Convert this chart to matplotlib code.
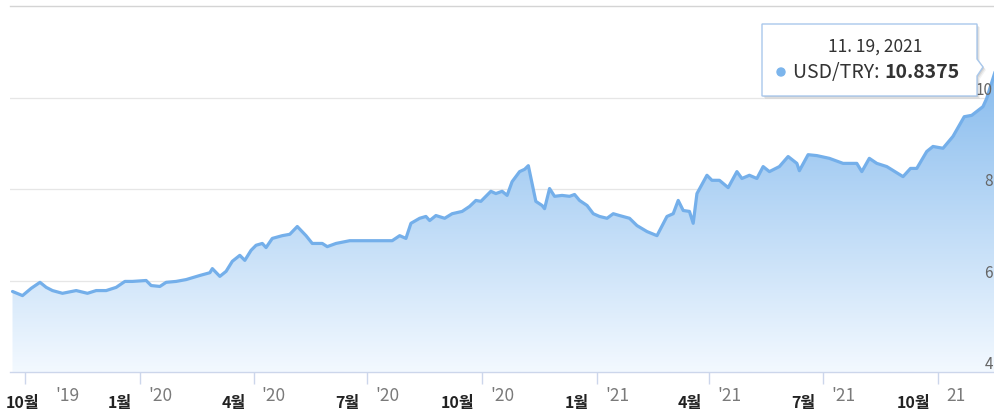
import matplotlib
matplotlib.use("Agg")
import numpy as np
import matplotlib.pyplot as plt
import matplotlib.dates as mdates
from matplotlib.colors import LinearSegmentedColormap
from matplotlib.patches import Polygon, Circle
from matplotlib.transforms import IdentityTransform, offset_copy, blended_transform_factory

plt.rcParams['font.family'] = ['Noto Sans CJK KR', 'DejaVu Sans']

# ---- data -------------------------------------------------------------
dates = [
    '2019-09-21', '2019-09-29', '2019-10-06', '2019-10-13', '2019-10-18', '2019-10-23',
    '2019-10-31', '2019-11-11', '2019-11-20', '2019-11-27', '2019-12-05', '2019-12-13',
    '2019-12-20', '2019-12-26', '2020-01-06', '2020-01-10', '2020-01-17', '2020-01-22',
    '2020-01-30', '2020-02-07', '2020-02-18', '2020-02-26', '2020-02-28', '2020-03-05',
    '2020-03-10', '2020-03-15', '2020-03-21', '2020-03-25', '2020-03-30', '2020-04-03',
    '2020-04-08', '2020-04-11', '2020-04-16', '2020-04-24', '2020-04-30', '2020-05-06',
    '2020-05-13', '2020-05-18', '2020-05-26', '2020-05-30', '2020-06-06', '2020-06-17',
    '2020-06-27', '2020-07-21', '2020-07-27', '2020-08-01', '2020-08-05', '2020-08-12',
    '2020-08-17', '2020-08-20', '2020-08-25', '2020-09-01', '2020-09-07', '2020-09-15',
    '2020-09-21', '2020-09-26', '2020-09-30', '2020-10-04', '2020-10-08', '2020-10-12',
    '2020-10-17', '2020-10-21', '2020-10-25', '2020-10-31', '2020-11-04', '2020-11-07',
    '2020-11-10', '2020-11-13', '2020-11-18', '2020-11-20', '2020-11-24', '2020-11-28',
    '2020-12-04', '2020-12-10', '2020-12-14', '2020-12-18', '2020-12-24', '2020-12-29',
    '2021-01-03', '2021-01-09', '2021-01-14', '2021-01-19', '2021-01-27', '2021-02-02',
    '2021-02-10', '2021-02-18', '2021-02-26', '2021-03-03', '2021-03-07', '2021-03-11',
    '2021-03-16', '2021-03-19', '2021-03-22', '2021-03-30', '2021-04-03', '2021-04-09',
    '2021-04-16', '2021-04-23', '2021-04-27', '2021-05-03', '2021-05-09', '2021-05-14',
    '2021-05-19', '2021-05-27', '2021-06-03', '2021-06-10', '2021-06-12', '2021-06-19',
    '2021-06-26', '2021-07-06', '2021-07-17', '2021-07-28', '2021-08-01', '2021-08-07',
    '2021-08-13', '2021-08-21', '2021-09-03', '2021-09-09', '2021-09-14', '2021-09-22',
    '2021-09-27', '2021-10-05', '2021-10-13', '2021-10-22', '2021-10-28', '2021-11-06',
    '2021-11-09', '2021-11-14', '2021-11-19',
]
rates = [
    5.76, 5.67, 5.83, 5.96, 5.85, 5.78,
    5.72, 5.78, 5.72, 5.78, 5.78, 5.85,
    5.98, 5.98, 6.00, 5.89, 5.87, 5.96,
    5.98, 6.02, 6.11, 6.17, 6.26, 6.09,
    6.20, 6.42, 6.55, 6.44, 6.66, 6.77,
    6.81, 6.72, 6.92, 6.98, 7.01, 7.18,
    6.98, 6.81, 6.81, 6.74, 6.81, 6.87,
    6.87, 6.87, 6.98, 6.92, 7.25, 7.36,
    7.40, 7.31, 7.42, 7.36, 7.46, 7.51,
    7.62, 7.75, 7.73, 7.84, 7.95, 7.90,
    7.95, 7.86, 8.16, 8.38, 8.43, 8.51,
    8.12, 7.73, 7.64, 7.57, 8.01, 7.84,
    7.86, 7.84, 7.88, 7.75, 7.64, 7.46,
    7.40, 7.36, 7.46, 7.42, 7.36, 7.20,
    7.07, 6.98, 7.40, 7.46, 7.75, 7.53,
    7.51, 7.25, 7.90, 8.30, 8.19, 8.19,
    8.03, 8.38, 8.23, 8.30, 8.23, 8.49,
    8.38, 8.49, 8.71, 8.56, 8.40, 8.75,
    8.73, 8.67, 8.56, 8.56, 8.38, 8.67,
    8.56, 8.49, 8.27, 8.45, 8.45, 8.82,
    8.93, 8.89, 9.15, 9.58, 9.61, 9.80,
    9.98, 10.42, 10.8375,
]

tick_dates = ['2019-10-01', '2020-01-01', '2020-04-01', '2020-07-01', '2020-10-01',
              '2021-01-01', '2021-04-01', '2021-07-01', '2021-10-01']
tick_months = ['10월', '1월', '4월', '7월', '10월', '1월', '4월', '7월', '10월']
tick_years = ["'19", "'20", "'20", "'20", "'20", "'21", "'21", "'21", "21"]

grid_values = [6, 8, 10]
y_labels = [4, 6, 8, 10]

series_name = 'USD/TRY'
hover_date = '11. 19, 2021'
hover_value = 10.8375

# ---- figure layout (pixels) --------------------------------------------
W, H = 995, 414
fig = plt.figure(figsize=(W / 100, H / 100), dpi=100)
fig.patch.set_facecolor('white')

plot_left, plot_right = 10, 995
plot_top, plot_bottom = 7, 373
ax = fig.add_axes([plot_left / W, (H - plot_bottom) / H,
                   (plot_right - plot_left) / W, (plot_bottom - plot_top) / H])
ax.set_facecolor('none')

x = mdates.datestr2num(dates)
y = np.array(rates)
tx = mdates.datestr2num(tick_dates)

# x scale: first and last quarter ticks sit at 25 px and 938 px
px_first, px_last = 25, 938
px_per_day = (px_last - px_first) / (tx[-1] - tx[0])
x0 = tx[0] + (plot_left - px_first) / px_per_day
x1 = tx[0] + (plot_right - px_first) / px_per_day
ymin, ymax = 4, 12

# gradient area under the line
blue = np.array([124, 181, 236]) / 255
pale = np.array([243, 249, 255]) / 255
cmap = LinearSegmentedColormap.from_list('area', [pale, blue])
grad = np.linspace(0, 1, 256).reshape(-1, 1)
im = ax.imshow(grad, extent=[x0, x1, ymin, 11.3], origin='lower', aspect='auto',
               cmap=cmap, zorder=1, interpolation='bilinear')
verts = np.vstack([np.column_stack([x, y]), [[x[-1], ymin], [x[0], ymin]]])
clip = Polygon(verts, closed=True, transform=ax.transData, facecolor='none', edgecolor='none')
ax.add_patch(clip)
im.set_clip_path(clip)

# grid lines
for v in grid_values:
    ax.axhline(v, color='#e6e6e6', lw=0.9, zorder=0.5)
ax.axhline(12, color='#d4d4d4', lw=1.0, zorder=0.5, clip_on=False)

# series line
ax.plot(x, y, color='#74afea', lw=2.3, solid_joinstyle='round', solid_capstyle='round', zorder=3)

ax.set_xlim(x0, x1)
ax.set_ylim(ymin, ymax)

for s in ['top', 'left', 'right']:
    ax.spines[s].set_visible(False)
ax.spines['bottom'].set_color('#ccd6eb')
ax.spines['bottom'].set_linewidth(1.0)
ax.set_yticks([])
ax.set_xticks(tx)
ax.tick_params(axis='x', length=12 * 0.72, width=1.0, color='#ccd6eb', labelbottom=False)

# quarter labels: bold month on the left of the tick, year on the right
xtrans = ax.get_xaxis_transform()
for i, (t, m, yr) in enumerate(zip(tx, tick_months, tick_years)):
    shift = 22 if i == 0 else 0
    ax.text(t, 0, m, transform=offset_copy(xtrans, fig=fig, x=-8 + shift, y=-30, units='dots'),
            ha='right', va='center', fontsize=11.5, fontweight='bold', color='#222222')
    ax.text(t, 0, yr, transform=offset_copy(xtrans, fig=fig, x=8 + shift, y=-23, units='dots'),
            ha='left', va='center', fontsize=12.5, color='#7a7a7a')

# value labels on the right edge
ytrans = blended_transform_factory(ax.transAxes, ax.transData)
for v in y_labels:
    ax.text(1, v, str(v), transform=offset_copy(ytrans, fig=fig, x=-2, y=8, units='dots'),
            ha='right', va='center', fontsize=11, color='#666666', clip_on=False)

# hover tooltip
ident = IdentityTransform()


def P(px, py):
    return (px, H - py)


box = [P(762, 25), P(977, 25), P(977, 60), P(983, 68), P(977, 77), P(977, 97), P(762, 97)]
for d, a in [(3, 0.05), (2, 0.07), (1, 0.09)]:
    shadow = Polygon([(bx + d, by - d) for bx, by in box], closed=True, transform=ident,
                     facecolor='black', edgecolor='none', alpha=a, zorder=8)
    fig.add_artist(shadow)
fig.add_artist(Polygon(box, closed=True, transform=ident, facecolor='white',
                       edgecolor='#a9c8ec', lw=1.0, zorder=9))
fig.text(*P(875, 47), hover_date, transform=ident, ha='center', va='center',
         fontsize=12.5, color='#333333', zorder=10)
fig.add_artist(Circle(P(781, 73), 4, transform=ident, color='#7cb5ec', zorder=10))
name_txt = fig.text(*P(793, 73), f'{series_name}: ', transform=ident, ha='left', va='center',
                    fontsize=14, color='#333333', zorder=10)
fig.add_artist(plt.Annotation(f'{hover_value:.4f}', xy=(1, 0.5), xycoords=name_txt,
                              ha='left', va='center', fontsize=14, fontweight='bold',
                              color='#333333', zorder=10))

fig.savefig('out.png', dpi=100, facecolor='white')
